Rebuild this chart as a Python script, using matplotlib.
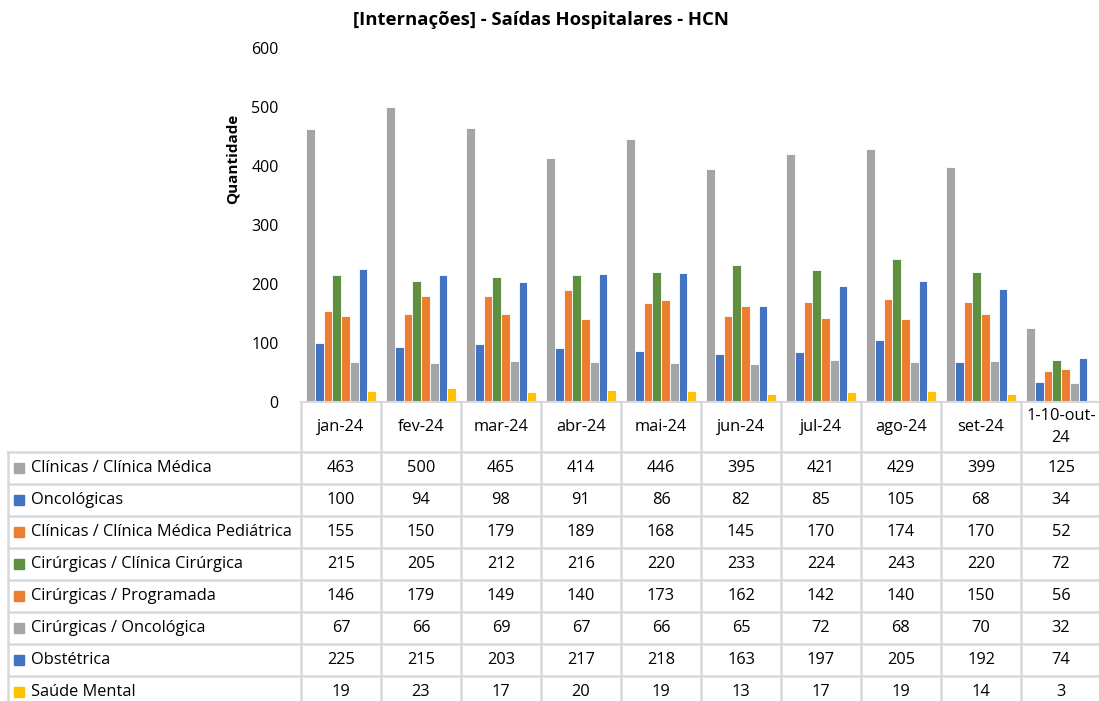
import matplotlib.pyplot as plt
import numpy as np

meses = ['jan-24', 'fev-24', 'mar-24', 'abr-24', 'mai-24', 'jun-24', 'jul-24', 'ago-24', 'set-24', '1-10-out-\n24']
series = ['Clínicas / Clínica Médica', 'Oncológicas', 'Clínicas / Clínica Médica Pediátrica',
          'Cirúrgicas / Clínica Cirúrgica', 'Cirúrgicas / Programada', 'Cirúrgicas / Oncológica',
          'Obstétrica', 'Saúde Mental']
clinica_medica = [463, 500, 465, 414, 446, 395, 421, 429, 399, 125]
oncologicas = [100, 94, 98, 91, 86, 82, 85, 105, 68, 34]
pediatrica = [155, 150, 179, 189, 168, 145, 170, 174, 170, 52]
clinica_cirurgica = [215, 205, 212, 216, 220, 233, 224, 243, 220, 72]
programada = [146, 179, 149, 140, 173, 162, 142, 140, 150, 56]
cir_oncologica = [67, 66, 69, 67, 66, 65, 72, 68, 70, 32]
obstetrica = [225, 215, 203, 217, 218, 163, 197, 205, 192, 74]
saude_mental = [19, 23, 17, 20, 19, 13, 17, 19, 14, 3]
valores = [clinica_medica, oncologicas, pediatrica, clinica_cirurgica, programada,
           cir_oncologica, obstetrica, saude_mental]
cores = ['#A5A5A5', '#4472C4', '#ED7D31', '#5E9040', '#ED7D31', '#A5A5A5', '#4472C4', '#FFC000']

plt.rcParams['font.family'] = ['Open Sans', 'DejaVu Sans']
W, H = 1099, 701
fig = plt.figure(figsize=(W / 100, H / 100), dpi=100)

# axe des barres en pixels: x 301..1101, y 48..402
ax = fig.add_axes([301 / W, 1 - 402 / H, 800 / W, 354 / H])
x = np.arange(len(meses))
larg = 0.875 / len(series)
for k, (vals, cor) in enumerate(zip(valores, cores)):
    ax.bar(x - 0.4375 + larg * (k + 0.5), vals, larg, color=cor, edgecolor='white', linewidth=0.6)
ax.set_xlim(-0.5, len(meses) - 0.5)
ax.set_ylim(0, 600)
ax.set_yticks(range(0, 601, 100))
ax.tick_params(axis='y', length=0, labelsize=11.5, pad=16)
ax.set_xticks([])
for s in ['top', 'right', 'left']:
    ax.spines[s].set_visible(False)
ax.spines['bottom'].set_color('#D9D9D9')
ax.spines['bottom'].set_linewidth(1.5)
fig.text(233 / W, 1 - 159 / H, 'Quantidade', rotation=90, ha='center', va='center',
         fontsize=11, fontweight='bold')
fig.text(541 / W, 1 - 20 / H, '[Internações] - Saídas Hospitalares - HCN', ha='center', va='center',
         fontsize=13.3, fontweight='bold')

# tableau de donnees sous le graphique (y en pixels de la figure)
def ypx(p):
    return 1 - p / H

grid = dict(color='#D9D9D9', linewidth=1.8, transform=fig.transFigure, clip_on=False)
trans_x = ax.transData
topo, cab, alt = 402, 452, 32
linhas_y = [cab + alt * i for i in range(len(series) + 1)]
fundo = linhas_y[-1]

def xfig(xd):
    return fig.transFigure.inverted().transform(trans_x.transform((xd, 0)))[0]

x_esq = 8 / W
x_dir = xfig(len(meses) - 0.5)
# verticais
for i in range(len(meses) + 1):
    xv = xfig(i - 0.5)
    fig.add_artist(plt.Line2D([xv, xv], [ypx(topo), ypx(fundo)], **grid))
fig.add_artist(plt.Line2D([x_esq, x_esq], [ypx(cab), ypx(fundo)], **grid))
# horizontais
for yl in linhas_y:
    fig.add_artist(plt.Line2D([x_esq, x_dir], [ypx(yl), ypx(yl)], **grid))

for i, m in enumerate(meses):
    fig.text(xfig(i), ypx((topo + cab) / 2), m, ha='center', va='center', fontsize=11.8,
             linespacing=1.45)
for r, (nome, vals, cor) in enumerate(zip(series, valores, cores)):
    yc = ypx(cab + alt * (r + 0.5))
    fig.add_artist(plt.Rectangle((14 / W, yc - 5 / H), 10 / W, 10 / H, color=cor,
                                 transform=fig.transFigure))
    fig.text(31 / W, yc, nome, ha='left', va='center', fontsize=11.8)
    for i, v in enumerate(vals):
        fig.text(xfig(i), yc, str(v), ha='center', va='center', fontsize=11.8)

fig.savefig('out.png', dpi=100)
